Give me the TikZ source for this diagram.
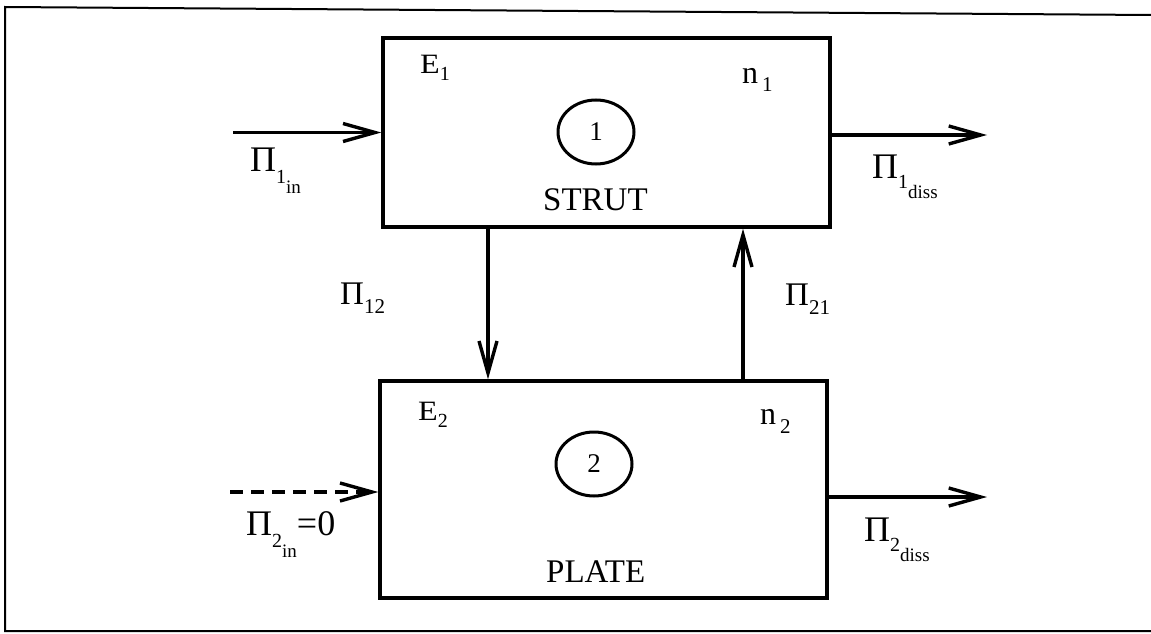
\documentclass[tikz,border=0pt]{standalone}
\usepackage{fontspec}
\setmainfont{Liberation Serif}
\usetikzlibrary{arrows.meta,shapes.geometric}
\newcommand\fs[1]{\fontsize{#1}{#1}\selectfont}
\newcommand\lowsub[4]{\raisebox{-#1pt}{\fs{20}#2}\raisebox{-#3pt}{\fs{19}#4}}
\tikzset{
  blockbox/.style={draw, line width=3.4pt, rectangle, inner sep=0pt},
  numcirc/.style={draw, line width=3pt, ellipse, minimum width=76pt, minimum height=64pt, inner sep=0pt, font=\fs{27}},
  flow/.style={line width=3.4pt, -{Straight Barb[length=32pt,width=18pt,line width=3.4pt]}},
  lbl/.style={inner sep=0pt, anchor=base west},
  frameline/.style={line width=2pt}
}
\begin{document}
\begin{tikzpicture}[x=1pt,y=-1pt]
\useasboundingbox (0,0) rectangle (1151,634);
% frame
\coordinate (fa) at (5,7);
\coordinate (fb) at (1151,15);
\coordinate (fc) at (5,631);
\coordinate (fd) at (1151,631);
\draw[frameline] (fb) -- (fa) -- (fc) -- (fd);
% blocks
\node[blockbox, minimum width=447pt, minimum height=189pt] (b1) at (606.5,132.5) {};
\node[blockbox, minimum width=447pt, minimum height=217pt] (b2) at (603.5,489.5) {};
\node[numcirc] (c1) at (596,132) {1};
\node[numcirc] (c2) at (594,464) {2};
\node[lbl, font=\fs{33}] (strut) at (543,210) {STRUT};
\node[lbl, font=\fs{33}] (plate) at (546,582) {PLATE};
\node[lbl, font=\fs{28}] (e1) at (420,74) {\scalebox{1.15}[1]{E}\raisebox{-7pt}{\fs{20}1}};
\node[lbl, font=\fs{28}] (e2) at (418,420) {\scalebox{1.15}[1]{E}\raisebox{-7pt}{\fs{20}2}};
\node[lbl, font=\fs{32}] (n1) at (742,83) {n\hspace{4pt}\raisebox{-9pt}{\fs{21}1}};
\node[lbl, font=\fs{32}] (n2) at (760,424) {n\hspace{4pt}\raisebox{-9pt}{\fs{21}2}};
% flows
\coordinate (in1) at (233,132.5);
\coordinate (out1) at (987,135);
\coordinate (in2) at (230,492);
\coordinate (out2) at (987,497);
\coordinate (dn) at (488,0);
\coordinate (up) at (743,0);
\draw[flow] (in1) -- (b1.west);
\draw[flow] (out1 -| b1.east) -- (out1);
\draw[flow, dash pattern=on 13pt off 8pt] (in2) -- (in2 -| b2.west);
\draw[flow] (out2 -| b2.east) -- (out2);
\draw[flow] (dn |- b1.south) -- (dn |- b2.north);
\draw[flow] (up |- b2.north) -- (up |- b1.south);
% flow labels
\node[lbl, font=\fs{36}] (p1in) at (250,171) {Π\lowsub{12}{1}{22}{in}};
\node[lbl, font=\fs{36}] (p1d) at (872,178) {Π\lowsub{10}{1}{20}{diss}};
\node[lbl, font=\fs{33}] (p12) at (340,304) {Π\raisebox{-9pt}{\fs{21}12}};
\node[lbl, font=\fs{33}] (p21) at (785,305) {Π\raisebox{-9pt}{\fs{21}21}};
\node[lbl, font=\fs{36}] (p2in) at (246,535) {Π\lowsub{12}{2}{22}{in}=0};
\node[lbl, font=\fs{36}] (p2d) at (864,541) {Π\lowsub{10}{2}{20}{diss}};
\end{tikzpicture}
\end{document}
